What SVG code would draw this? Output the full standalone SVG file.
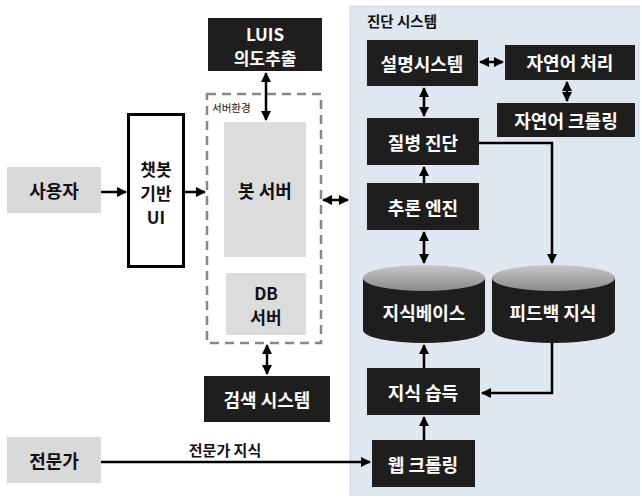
<svg xmlns="http://www.w3.org/2000/svg" width="642" height="498" viewBox="0 0 642 498">
<defs>
<style>
.t{font-family:"Noto Sans CJK KR","Noto Sans",sans-serif;font-weight:bold;font-size:18px;text-anchor:middle;dominant-baseline:central}
.m{font-size:17px}
.w{fill:#fff}
.k{fill:#111}
.dark{fill:#1e1e1e}
.grey{fill:#d9d9d9}
.c{fill:none;stroke:#000;stroke-width:2.5}
</style>
<marker id="a" viewBox="0 0 10 10" refX="9" refY="5" markerWidth="4" markerHeight="4" orient="auto-start-reverse"><path d="M0,0 L10,5 L0,10 z" fill="#000"/></marker>
<linearGradient id="g" x1="0" y1="0" x2="0" y2="1"><stop offset="0" stop-color="#c8c8c8"/><stop offset="1" stop-color="#8a8a8a"/></linearGradient>
</defs>
<rect width="642" height="498" fill="#fff"/>
<g id="panel">
<rect x="350" y="6" width="289" height="489" fill="#dfe7f1" stroke="#cfd6df" stroke-width="1"/>
<text x="367" y="20" class="t k" style="text-anchor:start;font-size:14.5px">진단 시스템</text>
</g>
<g id="server-env">
<rect x="207" y="94" width="114" height="249" fill="none" stroke="#888" stroke-width="2.5" stroke-dasharray="9,6"/>
<text x="212" y="107" class="t k" style="text-anchor:start;font-size:10.5px;font-weight:normal">서버환경</text>
</g>
<g id="luis"><rect x="208" y="18" width="114" height="53" class="dark"/><text x="265" y="33" class="t m w">LUIS</text><text x="265" y="57" class="t m w">의도추출</text></g>
<g id="bot-server"><rect x="224" y="122" width="82" height="135" fill="#dcdcdc"/><text x="265" y="190" class="t k">봇 서버</text></g>
<g id="db-server"><rect x="226" y="273" width="80" height="62" fill="#dcdcdc"/><text x="266" y="292" class="t m k">DB</text><text x="266" y="316" class="t m k">서버</text></g>
<g id="search"><rect x="204" y="376" width="126" height="46" class="dark"/><text x="267" y="399" class="t w">검색 시스템</text></g>
<g id="user"><rect x="7" y="167" width="94" height="46" class="grey"/><text x="54" y="190" class="t k">사용자</text></g>
<g id="chatbot-ui"><rect x="128.5" y="114.5" width="55" height="152" fill="#fff" stroke="#000" stroke-width="3"/><text x="156" y="168" class="t m k">챗봇</text><text x="156" y="192" class="t m k">기반</text><text x="156" y="216" class="t m k">UI</text></g>
<g id="expert"><rect x="7" y="437" width="94" height="46" class="grey"/><text x="54" y="460" class="t k">전문가</text></g>
<g id="explain"><rect x="367" y="40" width="111" height="46" class="dark"/><text x="422" y="63" class="t w">설명시스템</text></g>
<g id="nlp"><rect x="505" y="45" width="130" height="35" class="dark"/><text x="570" y="62" class="t w">자연어 처리</text></g>
<g id="nl-crawl"><rect x="497" y="103" width="138" height="34" class="dark"/><text x="566" y="120" class="t w">자연어 크롤링</text></g>
<g id="diagnosis"><rect x="367" y="118" width="112" height="47" class="dark"/><text x="423" y="142" class="t w">질병 진단</text></g>
<g id="inference"><rect x="367" y="183" width="112" height="47" class="dark"/><text x="423" y="207" class="t w">추론 엔진</text></g>
<g id="kb">
<path d="M363,278 V330 A61,13 0 0 0 485,330 V278 Z" class="dark"/>
<ellipse cx="424" cy="278" rx="61" ry="13" fill="url(#g)"/>
<text x="424" y="312" class="t w">지식베이스</text>
</g>
<g id="feedback">
<path d="M492,278 V330 A61.5,13 0 0 0 615,330 V278 Z" class="dark"/>
<ellipse cx="553.5" cy="278" rx="61.5" ry="13" fill="url(#g)"/>
<text x="553" y="312" class="t w">피드백 지식</text>
</g>
<g id="acquire"><rect x="367" y="368" width="113" height="47" class="dark"/><text x="423" y="392" class="t w">지식 습득</text></g>
<g id="web-crawl"><rect x="372" y="440" width="103" height="47" class="dark"/><text x="423" y="464" class="t w">웹 크롤링</text></g>
<g id="connectors">
<line x1="266" y1="73" x2="266" y2="120" class="c" marker-start="url(#a)" marker-end="url(#a)"/>
<line x1="267" y1="345" x2="267" y2="374" class="c" marker-start="url(#a)" marker-end="url(#a)"/>
<line x1="101" y1="192" x2="126" y2="192" class="c" marker-end="url(#a)"/>
<line x1="184" y1="192" x2="205" y2="192" class="c" marker-end="url(#a)"/>
<line x1="323" y1="200" x2="348" y2="200" class="c" marker-start="url(#a)" marker-end="url(#a)"/>
<line x1="480" y1="62" x2="503" y2="62" class="c" marker-start="url(#a)" marker-end="url(#a)"/>
<line x1="567" y1="82" x2="567" y2="101" class="c" marker-start="url(#a)" marker-end="url(#a)"/>
<line x1="424" y1="88" x2="424" y2="116" class="c" marker-start="url(#a)" marker-end="url(#a)"/>
<line x1="424" y1="183" x2="424" y2="167" class="c" marker-end="url(#a)"/>
<line x1="424" y1="232" x2="424" y2="263" class="c" marker-start="url(#a)" marker-end="url(#a)"/>
<polyline points="479,143 552,143 552,263" class="c" marker-end="url(#a)"/>
<line x1="424" y1="368" x2="424" y2="345" class="c" marker-end="url(#a)"/>
<polyline points="552,343 552,393 482,393" class="c" marker-end="url(#a)"/>
<line x1="424" y1="440" x2="424" y2="417" class="c" marker-end="url(#a)"/>
<line x1="101" y1="462" x2="370" y2="462" class="c" marker-end="url(#a)"/>
<text x="225" y="449" class="t k" style="font-size:15px">전문가 지식</text>
</g>
</svg>
